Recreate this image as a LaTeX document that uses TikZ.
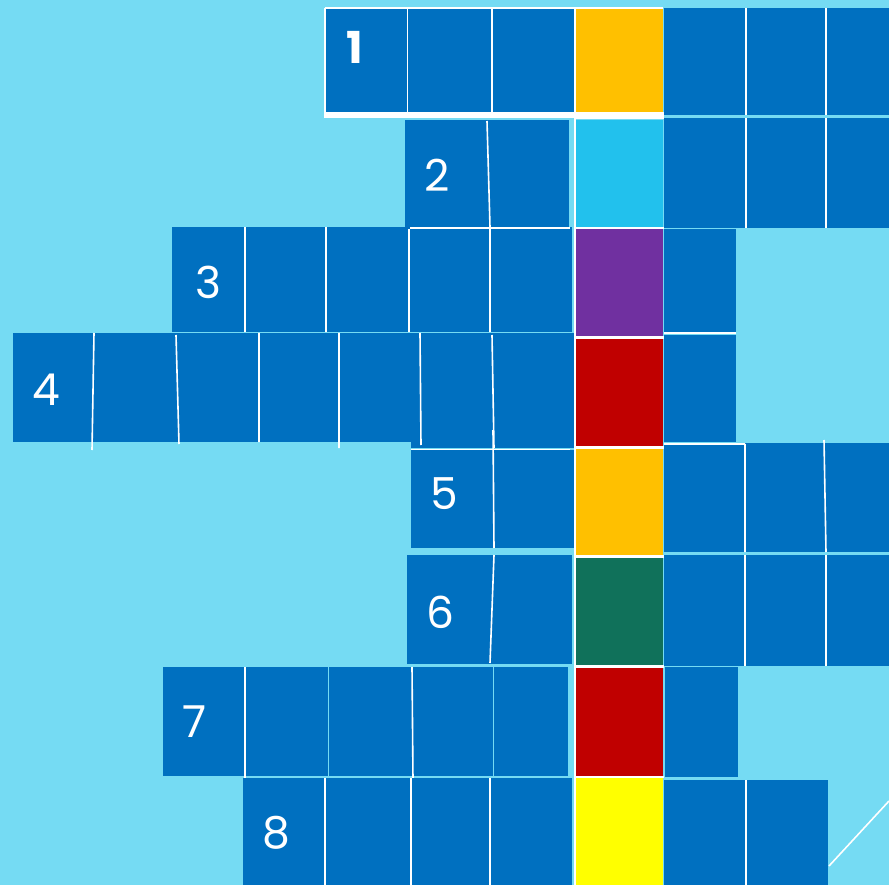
\documentclass[tikz,border=0pt]{standalone}
\usepackage{fontspec}
\setmainfont{Poppins}
\definecolor{bg}{RGB}{117,219,243}
\definecolor{cb}{RGB}{0,112,192}
\definecolor{lb}{RGB}{34,193,237}
\definecolor{pu}{RGB}{112,48,160}
\definecolor{rd}{RGB}{192,0,0}
\definecolor{og}{RGB}{255,192,0}
\definecolor{gn}{RGB}{16,113,90}
\definecolor{ye}{RGB}{255,255,0}
\tikzset{
  num/.style={text=white,font=\fontsize{44}{44}\selectfont,inner sep=0pt,anchor=center},
  div/.style={draw=white,line width=1.6pt},
  sep/.style={draw=white,line width=2.5pt},
}
\begin{document}
\begin{tikzpicture}[x=1pt,y=-1pt]
\fill[bg] (0,0) rectangle (889,885);
\useasboundingbox (0,0) rectangle (889,885);
% ---- row 1
\fill[cb] (326,8) rectangle (574,113);
\fill[og] (576,8) rectangle (663,113);
\fill[cb] (664,8) rectangle (889,115);
\fill[white] (324,112) rectangle (664,118);
\draw[white,line width=2pt] (325,8) -- (325,113) (325,8) -- (663,8);
\draw[div] (407.5,8) -- (407.5,113) (492,8) -- (492,113) (575,8) -- (575,113);
\draw[div] (746,8) -- (746,115) (826,8) -- (826,115);
% ---- row 2
\fill[cb] (405,120) rectangle (569,227);
\fill[lb] (576,120) rectangle (663,227);
\fill[cb] (664,118) rectangle (889,228);
\draw[div] (487,121) -- (490,227);
\draw[div] (746,118) -- (746,228) (826,118) -- (826,228);
% ---- row 3
\fill[cb] (172,227) rectangle (572,332);
\fill[pu] (576,229) rectangle (663,337);
\fill[cb] (664,229) rectangle (736,332);
\draw[div] (245,227) -- (245,332) (326,227) -- (326,332) (409,229) -- (409,332) (490,227) -- (490,332);
\draw[div] (410,228) -- (570,228);
\draw[div] (664,333) -- (736,333);
% ---- row 4
\fill[cb] (13,333) rectangle (575,442);
\fill[cb] (411,333) rectangle (575,448);
\fill[rd] (576,339) rectangle (663,446);
\fill[cb] (664,335) rectangle (736,442);
\draw[div] (94,333) -- (92,450) (176,335) -- (179,444) (259,333) -- (259,442) (339,333) -- (339,448) (420,333) -- (421,445) (492,335) -- (494,448);
% ---- row 5
\fill[cb] (411,450) rectangle (575,548);
\fill[og] (576,449) rectangle (663,555);
\fill[cb] (664,443) rectangle (889,552);
\draw[div] (411,449.5) -- (570,449.5);
\draw[div] (493,430) -- (494,548);
\draw[div] (664,444) -- (745,444) (745,444) -- (745,552) (824,440) -- (826,552);
% ---- row 6
\fill[cb] (407,555) rectangle (572,664);
\fill[gn] (576,558) rectangle (663,665);
\fill[cb] (664,555) rectangle (889,666);
\draw[div] (494,555) -- (490,663);
\draw[div] (745,555) -- (745,666) (826,555) -- (826,666);
% ---- row 7
\fill[cb] (163,667) rectangle (568,776);
\fill[rd] (576,668) rectangle (663,776);
\fill[cb] (665,667) rectangle (738,777);
\draw[div] (245,667) -- (245,778) (412,667) -- (413,780);
\draw[bg,line width=0.8pt] (328,667) -- (328,776) (493,667) -- (493,776);
% ---- row 8
\fill[cb] (243,778) rectangle (572,885);
\fill[ye] (576,778) rectangle (663,885);
\fill[cb] (664,780) rectangle (828,885);
\draw[div] (325,778) -- (325,885) (411,778) -- (411,885) (490,778) -- (490,885);
\draw[div] (746,780) -- (746,885);
% ---- coloured column separators
\draw[div] (575,113) -- (575,885);
\draw[sep] (575,118) -- (664,118) (575,228) -- (664,228) (575,337.5) -- (664,337.5) (575,447.5) -- (664,447.5) (575,556.5) -- (664,556.5) (575,666.5) -- (664,666.5) (575,777) -- (664,777);
% ---- diagonal
\coordinate (d1) at (829,866);
\coordinate (d2) at (889,801);
\draw[div] (d1) -- (d2);
% ---- numbers
\node[num,font=\fontsize{44}{44}\selectfont\bfseries] (n1) at (355,47) {1};
\node[num] (n2) at (437,175) {2};
\node[num] (n3) at (208,282) {3};
\node[num] (n4) at (46,390) {4};
\node[num] (n5) at (444,494) {5};
\node[num] (n6) at (440,612) {6};
\node[num] (n7) at (195,722) {7};
\node[num] (n8) at (276,833) {8};
\end{tikzpicture}
\end{document}
